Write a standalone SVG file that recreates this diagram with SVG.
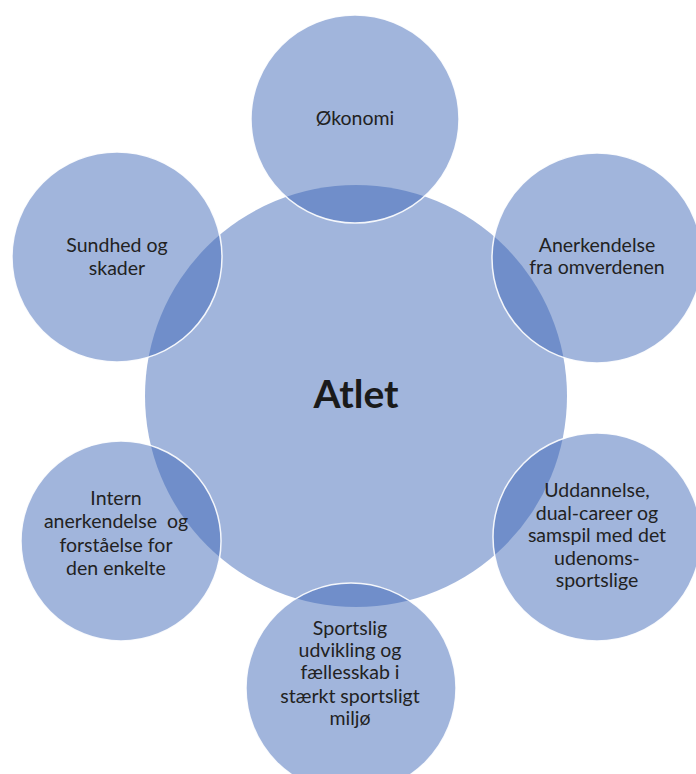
<svg xmlns="http://www.w3.org/2000/svg" width="696" height="774" viewBox="0 0 696 774">
<style>
.c{fill:rgb(59,101,182);fill-opacity:0.48}
.s{stroke:#ffffff;stroke-width:1.5;stroke-opacity:0.9}
text{font-family:Lato,"Open Sans","Liberation Sans",sans-serif;font-size:19.5px;fill:#222222;text-anchor:middle}
.big{font-size:39px;font-weight:bold;fill:#1a1a1a}
.pre{white-space:pre}
</style>
<rect width="696" height="774" fill="#ffffff"/>
<g id="atlet">
<circle class="c" cx="356" cy="396" r="211"/>
<text class="big" x="356" y="408">Atlet</text>
</g>
<g id="okonomi">
<circle class="c s" cx="355" cy="119" r="104"/>
<text x="355" y="125">Økonomi</text>
</g>
<g id="anerkendelse">
<circle class="c s" cx="597" cy="258" r="105"/>
<text x="597" y="252">Anerkendelse</text>
<text x="597" y="274">fra omverdenen</text>
</g>
<g id="uddannelse">
<circle class="c s" cx="597" cy="537" r="104"/>
<text x="597" y="497">Uddannelse,</text>
<text x="597" y="520">dual-career og</text>
<text x="597" y="542">samspil med det</text>
<text x="597" y="565">udenoms-</text>
<text x="597" y="587">sportslige</text>
</g>
<g id="sportslig">
<circle class="c s" cx="351" cy="688" r="105"/>
<text x="350" y="635">Sportslig</text>
<text x="350" y="657">udvikling og</text>
<text x="350" y="679">fællesskab i</text>
<text x="350" y="703">stærkt sportsligt</text>
<text x="350" y="725">miljø</text>
</g>
<g id="intern">
<circle class="c s" cx="121" cy="541" r="100"/>
<text x="116" y="505">Intern</text>
<text class="pre" x="116" y="528">anerkendelse  og</text>
<text x="116" y="552">forståelse for</text>
<text x="116" y="575">den enkelte</text>
</g>
<g id="sundhed">
<circle class="c s" cx="117" cy="257" r="105"/>
<text x="117" y="252">Sundhed og</text>
<text x="117" y="275">skader</text>
</g>
<g id="connectors"/>
</svg>
